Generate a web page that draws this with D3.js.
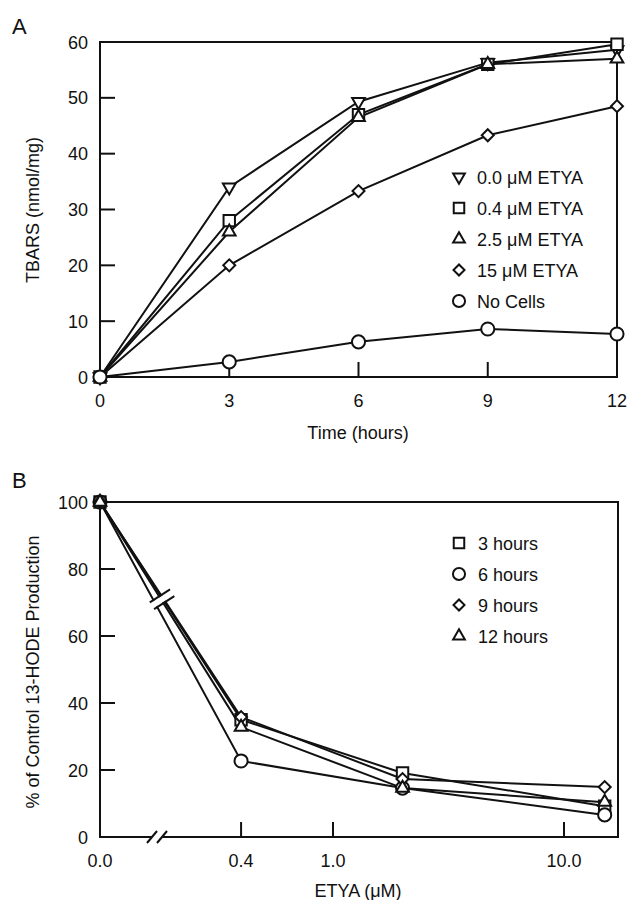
<!DOCTYPE html>
<html>
  <head>
    <meta charset="utf-8">
    <style>
    body { margin: 0; background: #fff; }
    text { font-family: "Liberation Sans", Arial, sans-serif; fill: #111; font-size: 18px; }
    .frame { fill: none; stroke: #111; stroke-width: 2; }
    .tick { stroke: #111; stroke-width: 2; }
    .series { fill: none; stroke: #111; stroke-width: 2; }
    .mark { fill: #fff; stroke: #111; stroke-width: 2; }
    </style>
  </head>
  <body>
    <script src="https://cdnjs.cloudflare.com/ajax/libs/d3/7.8.5/d3.min.js"></script>
    <script>
// ---- panel A data
var hours = [0, 3, 6, 9, 12];
var etya0 = [0, 34, 49.3, 56.3, 58.6];
var etya04 = [0, 28, 47, 56, 59.6];
var etya25 = [0, 26, 46.5, 56, 57];
var etya15 = [0, 20, 33.3, 43.3, 48.5];
var noCells = [0, 2.7, 6.3, 8.6, 7.7];
var seriesA = ["0.0 \u03bcM ETYA", "0.4 \u03bcM ETYA", "2.5 \u03bcM ETYA", "15 \u03bcM ETYA", "No Cells"];
var ticksAx = [0, 3, 6, 9, 12];
var ticksAy = [0, 10, 20, 30, 40, 50, 60];

// ---- panel B data
var etya = [0, 0.4, 2.0, 15];
var h3 = [100, 35, 19.1, 9.2];
var h6 = [100, 22.7, 14.6, 6.6];
var h9 = [100, 35.8, 17.3, 14.9];
var h12 = [100, 32.8, 14.6, 10.4];
var seriesB = ["3 hours", "6 hours", "9 hours", "12 hours"];
var ticksBx = [0, 0.4, 1, 10];
var ticksBxLabels = ["0.0", "0.4", "1.0", "10.0"];
var ticksBy = [0, 20, 40, 60, 80, 100];

var width = 628, height = 900;
var svg = d3.select("body").append("svg")
  .attr("width", width).attr("height", height);

function symbolPath(kind, k) {
  k = k || 1;
  if (kind == "square") return d3.symbol(d3.symbolSquare, 130 * k)();
  if (kind == "circle") return d3.symbol(d3.symbolCircle, 135 * k)();
  if (kind == "diamond") return d3.symbol(d3.symbolSquare, 72 * k)();
  return d3.symbol(d3.symbolTriangle, 70 * k)();
}
function symbolRot(kind) {
  if (kind == "down") return " rotate(180)";
  if (kind == "diamond") return " rotate(45)";
  return "";
}

function drawMarks(g, xs, ys, kind, k) {
  g.selectAll(null).data(xs).enter().append("path")
    .attr("class", "mark")
    .attr("d", symbolPath(kind, k))
    .attr("transform", function(d, i) { return "translate(" + xs[i] + "," + ys[i] + ")" + symbolRot(kind); });
}

// ================= PANEL A
var xA = d3.scaleLinear().domain([0, 12]).range([100, 617]);
var yA = d3.scaleLinear().domain([0, 60]).range([377, 42]);
var gA = svg.append("g");

gA.append("text").attr("x", 12).attr("y", 34).style("font-size", "22px").text("A");

// frame
gA.append("rect").attr("class", "frame")
  .attr("x", xA(0)).attr("y", yA(60))
  .attr("width", xA(12) - xA(0)).attr("height", yA(0) - yA(60));

// ticks (inward)
gA.selectAll(null).data(ticksAy.slice(1, -1)).enter().append("line").attr("class", "tick")
  .attr("x1", xA(0)).attr("x2", xA(0) + 15)
  .attr("y1", function(d) { return yA(d); }).attr("y2", function(d) { return yA(d); });
gA.selectAll(null).data(ticksAx.slice(1, -1)).enter().append("line").attr("class", "tick")
  .attr("x1", function(d) { return xA(d); }).attr("x2", function(d) { return xA(d); })
  .attr("y1", yA(0)).attr("y2", yA(0) - 15);

gA.selectAll(null).data(ticksAy).enter().append("text")
  .attr("x", 88).attr("y", function(d) { return yA(d) + 6.5; })
  .attr("text-anchor", "end")
  .text(function(d) { return d; });
gA.selectAll(null).data(ticksAx).enter().append("text")
  .attr("x", function(d) { return xA(d); }).attr("y", 407)
  .attr("text-anchor", "middle")
  .text(function(d) { return d; });

gA.append("text").attr("x", 358).attr("y", 439).attr("text-anchor", "middle")
  .text("Time (hours)");
gA.append("text").attr("transform", "translate(39,210) rotate(-90)").attr("text-anchor", "middle")
  .text("TBARS (nmol/mg)");

var dataA = [etya0, etya04, etya25, etya15, noCells];
var kindsA = ["down", "square", "up", "diamond", "circle"];
var lineA = d3.line().x(function(d, i) { return xA(hours[i]); }).y(function(d) { return yA(d); });
dataA.forEach(function(s) {
  gA.append("path").attr("class", "series").attr("d", lineA(s));
});
dataA.forEach(function(s, j) {
  drawMarks(gA, hours.map(xA), s.map(yA), kindsA[j]);
});

// legend A
seriesA.forEach(function(name, i) {
  var y = 177 + i * 31;
  drawMarks(gA, [459], [y], kindsA[i], 0.85);
  gA.append("text").attr("x", 477).attr("y", y + 6.5).text(name);
});

// ================= PANEL B
var logB = d3.scaleLog().domain([1, 10]).range([333, 564]);
function xB(v) { return v == 0 ? 100 : logB(v); }
var yB = d3.scaleLinear().domain([0, 100]).range([837, 502]);
var gB = svg.append("g");

gB.append("text").attr("x", 12).attr("y", 488).style("font-size", "22px").text("B");

// frame with axis break at the bottom
gB.append("path").attr("class", "frame")
  .attr("d", "M" + 152 + "," + yB(0) + "H" + xB(0) + "V" + yB(100) + "H" + 618 + "V" + yB(0) + "H" + 162);
gB.append("line").attr("class", "tick").attr("x1", 147).attr("y1", yB(0) + 6).attr("x2", 157).attr("y2", yB(0) - 6);
gB.append("line").attr("class", "tick").attr("x1", 157).attr("y1", yB(0) + 6).attr("x2", 167).attr("y2", yB(0) - 6);

gB.selectAll(null).data(ticksBy.slice(1, -1)).enter().append("line").attr("class", "tick")
  .attr("x1", xB(0)).attr("x2", xB(0) + 15)
  .attr("y1", function(d) { return yB(d); }).attr("y2", function(d) { return yB(d); });
gB.selectAll(null).data(ticksBx.slice(1)).enter().append("line").attr("class", "tick")
  .attr("x1", function(d) { return xB(d); }).attr("x2", function(d) { return xB(d); })
  .attr("y1", yB(0)).attr("y2", yB(0) - 15);

gB.selectAll(null).data(ticksBy).enter().append("text")
  .attr("x", 88).attr("y", function(d) { return yB(d) + 6.5; })
  .attr("text-anchor", "end")
  .text(function(d) { return d; });
gB.selectAll(null).data(ticksBx).enter().append("text")
  .attr("x", function(d) { return xB(d); }).attr("y", 867)
  .attr("text-anchor", "middle")
  .text(function(d, i) { return ticksBxLabels[i]; });

gB.append("text").attr("x", 358).attr("y", 897).attr("text-anchor", "middle")
  .text("ETYA (\u03bcM)");
gB.append("text").attr("transform", "translate(39,672) rotate(-90)").attr("text-anchor", "middle")
  .text("% of Control 13-HODE Production");

var dataB = [h3, h6, h9, h12];
var kindsB = ["square", "circle", "diamond", "up"];
var lineB = d3.line().x(function(d, i) { return xB(etya[i]); }).y(function(d) { return yB(d); });
dataB.forEach(function(s) {
  gB.append("path").attr("class", "series").attr("d", lineB(s));
});

// break marks across the 0.0 -> 0.4 segment
(function() {
  var x0 = xB(0), y0 = yB(100), x1 = xB(0.4), y1 = yB(34);
  var dx = x1 - x0, dy = y1 - y0, len = Math.sqrt(dx * dx + dy * dy);
  var ux = dx / len, uy = dy / len, px = -uy, py = ux;
  var cx = x0 + dx * 0.44, cy = y0 + dy * 0.44;
  gB.append("path").attr("d", "M" + (cx - ux * 3 + px * 14) + "," + (cy - uy * 3 + py * 14) +
    "L" + (cx + ux * 3 + px * 14) + "," + (cy + uy * 3 + py * 14) +
    "L" + (cx + ux * 3 - px * 14) + "," + (cy + uy * 3 - py * 14) +
    "L" + (cx - ux * 3 - px * 14) + "," + (cy - uy * 3 - py * 14) + "Z")
    .attr("fill", "#fff");
  [-4, 4].forEach(function(s) {
    gB.append("line").attr("class", "tick")
      .attr("x1", cx + ux * s + px * 12).attr("y1", cy + uy * s + py * 12)
      .attr("x2", cx + ux * s - px * 12).attr("y2", cy + uy * s - py * 12);
  });
})();

dataB.forEach(function(s, j) {
  drawMarks(gB, etya.map(xB), s.map(yB), kindsB[j]);
});

seriesB.forEach(function(name, i) {
  var y = 543 + i * 31;
  drawMarks(gB, [459], [y], kindsB[i], 0.85);
  gB.append("text").attr("x", 478).attr("y", y + 6.5).text(name);
});
    </script>
  </body>
</html>
